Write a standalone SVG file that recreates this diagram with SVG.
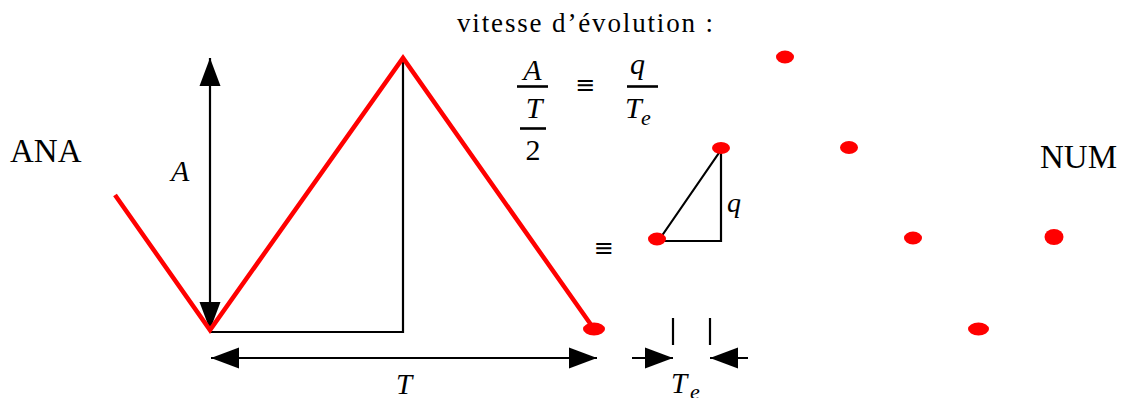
<svg xmlns="http://www.w3.org/2000/svg" width="1125" height="398" viewBox="0 0 1125 398">
<style>
text{fill:#000}
.i{font-style:italic}
.blk{stroke:#000;stroke-width:2.2;fill:none}
.red{stroke:#ff0000;stroke-width:4.5;fill:none;stroke-linejoin:miter}
.dot{fill:#ff0000}
.bar{stroke:#000;stroke-width:2.6}
</style>
<defs>
<marker id="ah" markerUnits="userSpaceOnUse" markerWidth="28" markerHeight="22" refX="28" refY="10.5" orient="auto-start-reverse" viewBox="0 0 28 21">
<path d="M0,0 L28,10.5 L0,21 z" fill="#000"/>
</marker>
</defs>
<rect width="1125" height="398" fill="#fff"/>
<g id="connectors">
<line class="blk" x1="210" y1="58" x2="210" y2="330" marker-start="url(#ah)" marker-end="url(#ah)"/>
<line class="blk" x1="211" y1="358" x2="597" y2="358" marker-start="url(#ah)" marker-end="url(#ah)"/>
<line class="blk" x1="632" y1="358" x2="673" y2="358" marker-end="url(#ah)"/>
<line class="blk" x1="748" y1="358" x2="710" y2="358" marker-end="url(#ah)"/>
<line class="blk" x1="673" y1="318" x2="673" y2="345"/>
<line class="blk" x1="710" y1="318" x2="710" y2="345"/>
</g>
<g id="signal">
<polyline class="blk" points="210,332 403,332 403,58"/>
<polyline class="red" points="115,195 210,330 403,58 594,329"/>
<ellipse class="dot" cx="594" cy="329" rx="11" ry="6.5"/>
</g>
<g id="step" font-family="Liberation Serif">
<polyline class="blk" points="659,240 721,150 721,241 660,241"/>
<ellipse class="dot" cx="657" cy="239" rx="9" ry="6.5"/>
<ellipse class="dot" cx="721" cy="148" rx="9" ry="6"/>
<text class="i" x="727" y="212" font-size="28" font-family="Liberation Serif">q</text>
<text x="603.5" y="256" font-size="24" text-anchor="middle" font-family="DejaVu Sans">≡</text>
</g>
<g id="samples">
<ellipse class="dot" cx="785" cy="57" rx="9" ry="6.5"/>
<ellipse class="dot" cx="849" cy="147.5" rx="9" ry="6.5"/>
<ellipse class="dot" cx="913" cy="238" rx="9" ry="6.5"/>
<ellipse class="dot" cx="1054" cy="237" rx="9.5" ry="8"/>
<ellipse class="dot" cx="978.5" cy="329" rx="10.5" ry="6.5"/>
</g>
<g id="formula" font-family="Liberation Serif">
<text x="457" y="32" font-size="27" font-family="Liberation Serif" textLength="256" lengthAdjust="spacing">vitesse d’évolution :</text>
<text class="i" x="532.5" y="80" font-size="30" font-family="Liberation Serif" text-anchor="middle">A</text>
<line class="bar" x1="517" y1="86.5" x2="548" y2="86.5"/>
<text class="i" x="534" y="118" font-size="30" font-family="Liberation Serif" text-anchor="middle">T</text>
<line class="bar" x1="520" y1="128.5" x2="546" y2="128.5"/>
<text x="533" y="160" font-size="30" font-family="Liberation Serif" text-anchor="middle">2</text>
<text x="585" y="93" font-size="24" font-family="DejaVu Sans" text-anchor="middle">≡</text>
<text class="i" x="630" y="74" font-size="30" font-family="Liberation Serif">q</text>
<line class="bar" x1="627" y1="86.5" x2="658" y2="86.5"/>
<text class="i" x="625" y="118" font-size="30" font-family="Liberation Serif">T</text>
<text class="i" x="641" y="125" font-size="22" font-family="Liberation Serif">e</text>
</g>
<g id="labels" font-family="Liberation Serif">
<text x="10" y="162" font-size="33" font-family="Liberation Serif">ANA</text>
<text x="1040" y="168" font-size="33" font-family="Liberation Serif">NUM</text>
<text class="i" x="171" y="181" font-size="30" font-family="Liberation Serif">A</text>
<text class="i" x="404" y="394" font-size="29" font-family="Liberation Serif" text-anchor="middle">T</text>
<text class="i" x="671" y="393" font-size="29" font-family="Liberation Serif">T</text>
<text class="i" x="690" y="399" font-size="22" font-family="Liberation Serif">e</text>
</g>
</svg>
